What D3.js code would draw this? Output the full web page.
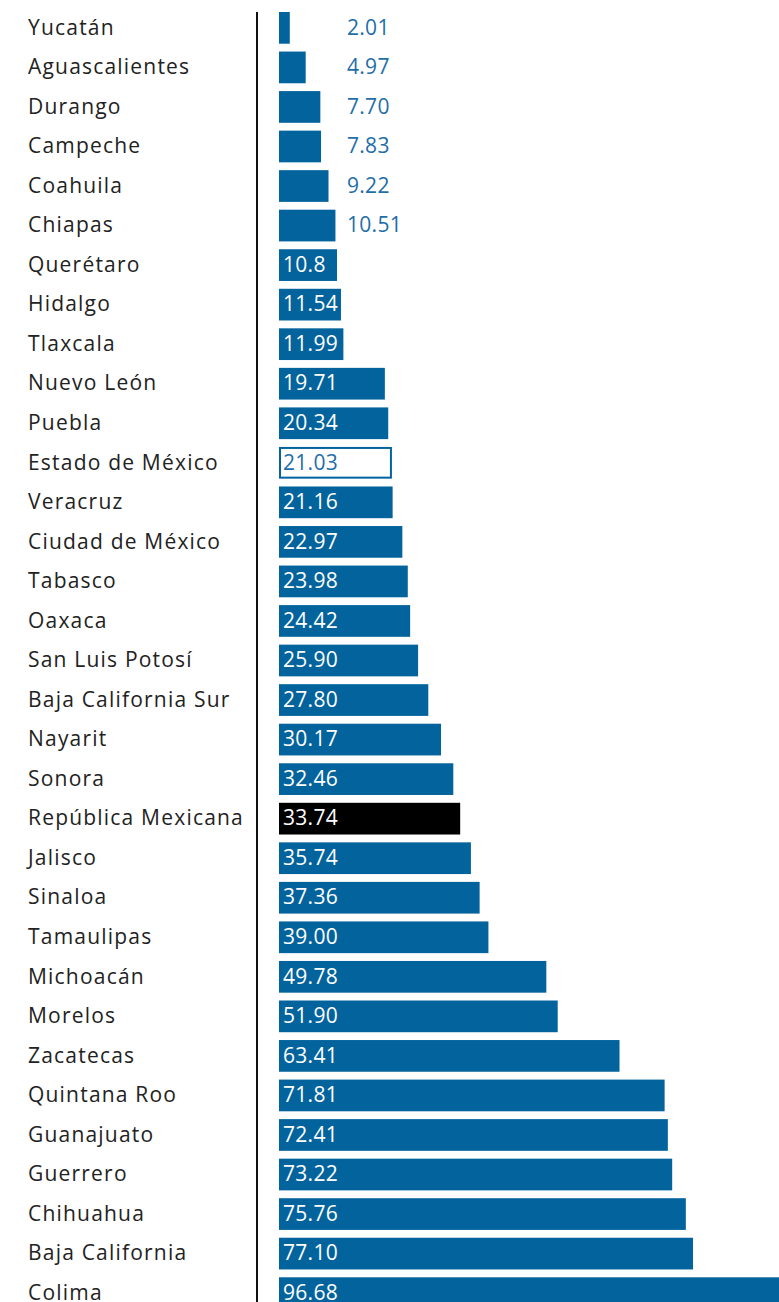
<!DOCTYPE html>
<html>
<head>
<meta charset="utf-8">
<script src="https://cdn.jsdelivr.net/npm/d3@7"></script>
<style>
html, body { margin: 0; padding: 0; background: #fff; overflow: hidden; }
svg { display: block; }
</style>
</head>
<body>
<div id="chart"></div>
<script>
const states = ["Yucatán","Aguascalientes","Durango","Campeche","Coahuila","Chiapas","Querétaro","Hidalgo","Tlaxcala","Nuevo León","Puebla","Estado de México","Veracruz","Ciudad de México","Tabasco","Oaxaca","San Luis Potosí","Baja California Sur","Nayarit","Sonora","República Mexicana","Jalisco","Sinaloa","Tamaulipas","Michoacán","Morelos","Zacatecas","Quintana Roo","Guanajuato","Guerrero","Chihuahua","Baja California","Colima"];
const values = [2.01,4.97,7.70,7.83,9.22,10.51,10.8,11.54,11.99,19.71,20.34,21.03,21.16,22.97,23.98,24.42,25.90,27.80,30.17,32.46,33.74,35.74,37.36,39.00,49.78,51.90,63.41,71.81,72.41,73.22,75.76,77.10,96.68];
const valueLabels = ["2.01","4.97","7.70","7.83","9.22","10.51","10.8","11.54","11.99","19.71","20.34","21.03","21.16","22.97","23.98","24.42","25.90","27.80","30.17","32.46","33.74","35.74","37.36","39.00","49.78","51.90","63.41","71.81","72.41","73.22","75.76","77.10","96.68"];
const highlightOutline = "Estado de México";
const highlightBlack = "República Mexicana";

const W = 779, H = 1302;
const blue = "#03639d";
const labelBlue = "#1f6ea8";
const FONT = "'Open Sans', 'Noto Sans', sans-serif";

const data = states.map((s, i) => ({ name: s, value: values[i], label: valueLabels[i] }));

const svg = d3.select("#chart").append("svg").attr("width", W).attr("height", H);

const step = 39.54;
const y = d3.scaleBand().domain(states).range([8.09, 8.09 + step * states.length])
  .paddingInner(0.198).paddingOuter(0.099);
const x = d3.scaleLinear().domain([0, 100]).range([279, 279 + 537]);

// axis line
svg.append("line").attr("x1", 257).attr("x2", 257).attr("y1", 12).attr("y2", H)
  .attr("stroke", "#111").attr("stroke-width", 2);

// state labels
svg.append("g").selectAll("text").data(data).join("text")
  .attr("x", 28).attr("y", d => y(d.name) + y.bandwidth() / 2)
  .attr("dy", "0.32em")
  .attr("font-family", FONT).attr("font-size", 21).attr("fill", "#222")
  .attr("letter-spacing", 1.2)
  .text(d => d.name);

// bars
svg.append("g").selectAll("rect").data(data).join("rect")
  .attr("x", d => d.name === highlightOutline ? x(0) + 1 : x(0))
  .attr("y", d => d.name === highlightOutline ? y(d.name) + 1 : y(d.name))
  .attr("width", d => d.name === highlightOutline ? x(d.value) - x(0) - 2 : x(d.value) - x(0))
  .attr("height", d => d.name === highlightOutline ? y.bandwidth() - 2 : y.bandwidth())
  .attr("fill", d => d.name === highlightOutline ? "#fff" : d.name === highlightBlack ? "#000" : blue)
  .attr("stroke", d => d.name === highlightOutline ? blue : "none")
  .attr("stroke-width", 2);

// value labels
const outside = d => x(d.value) - x(0) < 57.5;
svg.append("g").selectAll("text").data(data).join("text")
  .attr("x", d => outside(d) ? 347 : x(0) + 4)
  .attr("y", d => y(d.name) + y.bandwidth() / 2)
  .attr("dy", "0.32em")
  .attr("font-family", FONT).attr("font-size", 21)
  .attr("letter-spacing", 0.3)
  .attr("fill", d => (outside(d) || d.name === highlightOutline) ? labelBlue : "#fff")
  .text(d => d.label);
</script>
</body>
</html>
